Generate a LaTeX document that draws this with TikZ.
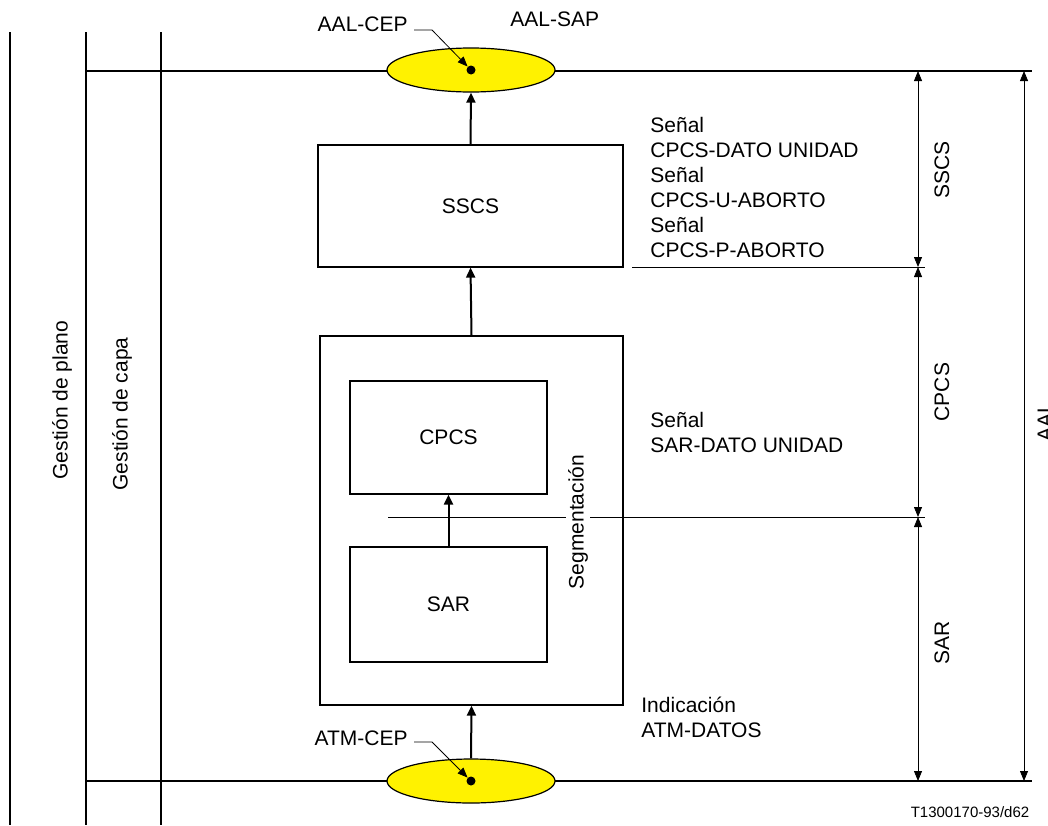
\documentclass[tikz,border=0pt]{standalone}
\usepackage{fontspec}
\setmainfont{Liberation Sans}
\usetikzlibrary{arrows.meta,shapes.geometric}
\begin{document}
\begin{tikzpicture}[x=0.5pt,y=-0.5pt,font=\fontsize{10.5}{12.5}\selectfont,
    box/.style={draw,line width=.6pt,inner sep=0pt},
    sap/.style={ellipse,draw,line width=.6pt,fill=yellow,minimum
        width=84pt,minimum height=22pt,inner sep=0pt},
    dot/.style={circle,fill=black,minimum size=4.5pt,inner sep=0pt},
    flow/.style={line width=1pt,-{Triangle[length=5pt,width=4.5pt]}},
    dim/.style={line width=.4pt,{Triangle[length=5pt,width=4pt]}-{Triangle[length=5pt,width=4pt]}},
    ptr/.style={line width=.4pt,-{Triangle[length=5pt,width=4pt]}}]
    \tikzstyle{note}=[inner sep=0pt,align=left,anchor=north west]
    \useasboundingbox (0,0) rectangle (1048,825);

    \draw[line width=1pt] (10,32) -- (10,825) (86,32) -- (86,825) (161,32) -- (161,825);
    \draw[line width=1pt] (86,71) -- (1032,71) (86,781) -- (1032,781);

    \node[sap] (aalsap) at (471,70) {};
    \node[sap] (atmsap) at (471,781) {};
    \node[dot] (aaldot) at (471,70) {};
    \node[dot] (atmdot) at (471,781) {};

    \node[box,minimum width=152.5pt,minimum height=61pt] (sscs) at (470.5,206) {SSCS};
    \node[box,minimum width=151.5pt,minimum height=184.5pt] (seg) at (471.5,520.5) {};
    \node[box,minimum width=98.5pt,minimum height=56.5pt] (cpcs) at (448.5,437.5) {CPCS};
    \node[box,minimum width=98.5pt,minimum height=57.5pt] (sar) at (448.5,604.5) {SAR};

    \draw[flow] (sscs.north) -- (aalsap.south);
    \draw[flow] (seg.north) -- (sscs.south);
    \draw[flow] (sar.north) -- (cpcs.south);
    \draw[flow] (atmsap.north) -- (seg.south);

    \coordinate (d1) at (918,71);
    \coordinate (d2) at (918,267);
    \coordinate (d3) at (918,517);
    \coordinate (d4) at (918,781);
    \coordinate (e1) at (1024,71);
    \coordinate (e2) at (1024,781);
    \draw[line width=.4pt] (632,267) -- (925,267);
    \draw[line width=.4pt] (388,517) -- (925,517);
    \node[fill=white,inner sep=1pt,rotate=90] (segtxt) at (578,522) {Segmentación};

    \draw[dim] (d1) -- (d2);
    \draw[dim] (d2) -- (d3);
    \draw[dim] (d3) -- (d4);
    \draw[dim] (e1) -- (e2);
    \node[rotate=90] (lsscs) at (942,170) {SSCS};
    \node[rotate=90] (lcpcs) at (942,392) {CPCS};
    \node[rotate=90] (lsar) at (942,643) {SAR};
    \node[rotate=90,inner sep=0pt] (laal) at (1045,422) {AAL};

    \node[inner sep=0pt,anchor=base east] (aalcep) at (408,31) {AAL-CEP};
    \node[inner sep=0pt,anchor=base west] (aalsaptxt) at (510,26) {AAL-SAP};
    \node[inner sep=0pt,anchor=base east] (atmcep) at (408,745) {ATM-CEP};
    \draw[ptr] ([xshift=3pt,yshift=.5pt]aalcep.base east) -- ++(9pt,0) -- (aaldot);
    \draw[ptr] ([xshift=3pt,yshift=1.5pt]atmcep.base east) -- ++(9pt,0) -- (atmdot);

    \node[note] (sscssig) at (650,116.5) {Señal\\CPCS-DATO UNIDAD\\Señal\\CPCS-U-ABORTO\\Señal\\CPCS-P-ABORTO};
    \node[note] (sarsig) at (650,411.5) {Señal\\SAR-DATO UNIDAD};
    \node[note] (atmind) at (641,696.5) {Indicación\\ATM-DATOS};

    \node[rotate=90] (gplano) at (62,400) {Gestión de plano};
    \node[rotate=90] (gcapa) at (122,414) {Gestión de capa};
    \node[font=\fontsize{7.5}{9}\selectfont] (figno) at (970,812) {T1300170-93/d62};

  \end{tikzpicture}
\end{document}
